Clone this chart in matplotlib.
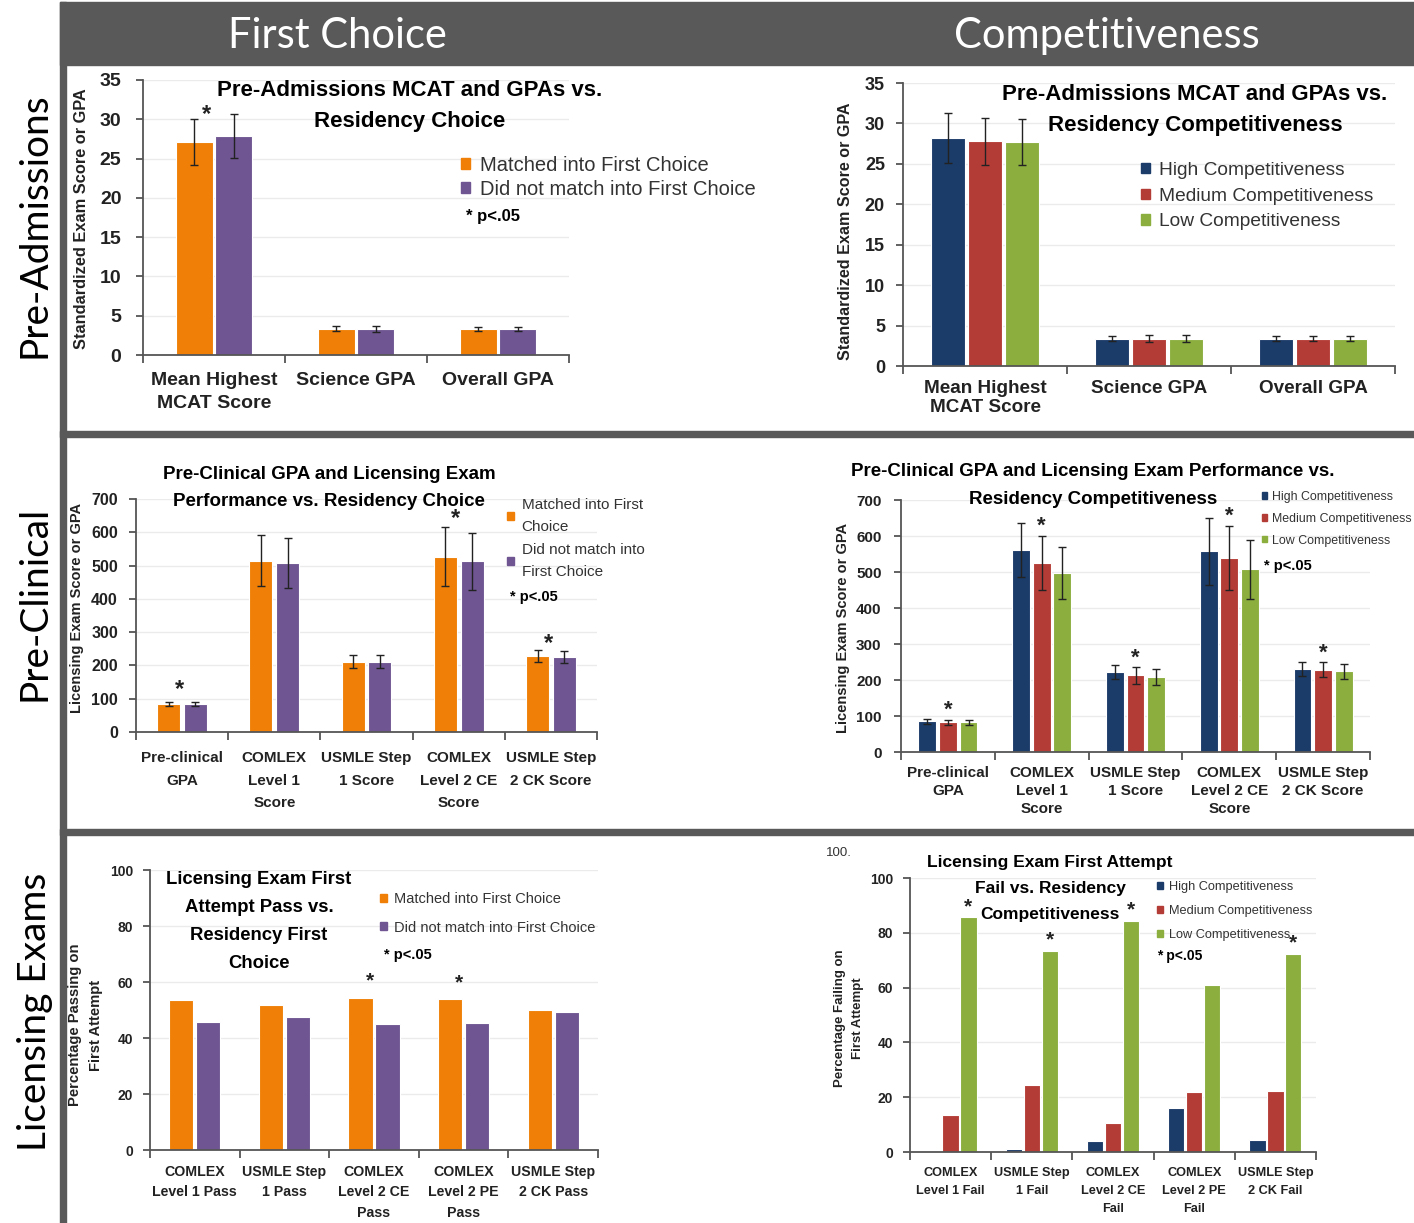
import numpy as np
import matplotlib.pyplot as plt
from matplotlib.patches import Rectangle

# ---- data ----
cats_adm = ['Mean Highest\nMCAT Score', 'Science GPA', 'Overall GPA']
matched_adm = [27.1, 3.35, 3.35]
matched_adm_err = [2.9, 0.35, 0.25]
notmatched_adm = [27.9, 3.35, 3.35]
notmatched_adm_err = [2.8, 0.4, 0.25]
high_adm = [28.2, 3.4, 3.4]
high_adm_err = [3.1, 0.35, 0.35]
med_adm = [27.8, 3.4, 3.4]
med_adm_err = [2.9, 0.4, 0.35]
low_adm = [27.7, 3.4, 3.4]
low_adm_err = [2.8, 0.4, 0.3]

cats_clin = ['Pre-clinical\nGPA', 'COMLEX\nLevel 1\nScore', 'USMLE Step\n1 Score',
             'COMLEX\nLevel 2 CE\nScore', 'USMLE Step\n2 CK Score']
matched_clin = [84, 515, 211, 527, 227]
matched_clin_err = [5, 76, 20, 88, 18]
notmatched_clin = [83, 508, 211, 513, 225]
notmatched_clin_err = [6, 75, 19, 86, 19]
high_clin = [85, 560, 222, 558, 231]
high_clin_err = [7, 75, 19, 93, 20]
med_clin = [83, 526, 213, 540, 229]
med_clin_err = [7, 75, 23, 89, 20]
low_clin = [83, 497, 208, 507, 224]
low_clin_err = [7, 72, 22, 83, 20]

cats_pass = ['COMLEX\nLevel 1 Pass', 'USMLE Step\n1 Pass', 'COMLEX\nLevel 2 CE\nPass',
             'COMLEX\nLevel 2 PE\nPass', 'USMLE Step\n2 CK Pass']
matched_pass = [53.5, 51.8, 54.3, 53.8, 50.0]
notmatched_pass = [45.7, 47.5, 45.0, 45.4, 49.2]

cats_fail = ['COMLEX\nLevel 1 Fail', 'USMLE Step\n1 Fail', 'COMLEX\nLevel 2 CE\nFail',
             'COMLEX\nLevel 2 PE\nFail', 'USMLE Step\n2 CK Fail']
high_fail = [0, 1.0, 4.0, 16.2, 4.3]
med_fail = [13.6, 24.6, 10.6, 21.8, 22.3]
low_fail = [85.6, 73.4, 84.2, 60.8, 72.2]

# ---- style ----
W, H = 1414, 1223
GRAY = '#595959'
ORANGE = '#EF7F06'
PURPLE = '#6F5591'
BLUE = '#1B3B68'
RED = '#B43C37'
GREEN = '#8BAE3F'
SANS = ['Liberation Sans', 'DejaVu Sans']
BIG = ['Lato', 'DejaVu Sans']
INK = '#222222'

fig = plt.figure(figsize=(W / 100, H / 100), dpi=100)


def box(x0, y0, x1, y1):
    fig.patches.append(Rectangle((x0 / W, 1 - y1 / H), (x1 - x0) / W, (y1 - y0) / H,
                                 transform=fig.transFigure, color=GRAY, zorder=0))


def ptext(x, y, s, **kw):
    kw.setdefault('fontfamily', SANS)
    fig.text(x / W, 1 - y / H, s, **kw)


def add_ax(x0, y0, x1, y1):
    ax = fig.add_axes([x0 / W, 1 - y1 / H, (x1 - x0) / W, (y1 - y0) / H])
    ax.patch.set_alpha(0)
    return ax


def style(ax, cats, ymax, ystep, yfs, ypad, xfs, xpad, ls):
    n = len(cats)
    ax.set_xlim(-0.5, n - 0.5)
    ax.set_ylim(0, ymax)
    ax.set_yticks(np.arange(0, ymax + 1, ystep))
    ax.yaxis.grid(True, color='#ebebeb', lw=1)
    ax.set_axisbelow(True)
    for s in ['top', 'right']:
        ax.spines[s].set_visible(False)
    for s in ['left', 'bottom']:
        ax.spines[s].set_color('#555555')
        ax.spines[s].set_linewidth(1.3)
    ax.set_xticks(range(n))
    ax.set_xticklabels(cats, fontfamily=SANS, fontsize=xfs, fontweight='bold',
                       color=INK, linespacing=ls)
    ax.set_xticks(np.arange(-0.5, n), minor=True)
    ax.tick_params(axis='x', which='major', length=0, pad=xpad)
    ax.tick_params(axis='x', which='minor', length=6, width=1.3, color='#555555')
    ax.tick_params(axis='y', length=5, width=1.3, color='#555555', pad=ypad)
    for t in ax.get_yticklabels():
        t.set_fontfamily(SANS)
        t.set_fontsize(yfs)
        t.set_fontweight('bold')
        t.set_color(INK)


def bars(ax, series, colors, width, offset):
    n = len(series)
    x = np.arange(len(series[0][0]))
    for i, (vals, errs) in enumerate(series):
        pos = x + (i - (n - 1) / 2) * offset
        ekw = dict(ecolor=INK, elinewidth=1, capsize=3, capthick=1)
        ax.bar(pos, vals, width, color=colors[i], edgecolor='white', lw=0.8,
               yerr=errs, error_kw=ekw, zorder=2)


def legend(ax, x, y, labels, colors, fs, spacing, ms=0.45, ls=1.2, tp=0.5):
    h = [Rectangle((0, 0), 1, 1, color=c) for c in colors]
    leg = ax.legend(h, labels, loc='upper left', bbox_to_anchor=(x / W, 1 - y / H),
                    bbox_transform=fig.transFigure, frameon=False,
                    prop=dict(family=SANS, size=fs), labelcolor='#333333',
                    handlelength=ms, handleheight=ms, handletextpad=tp,
                    labelspacing=spacing, borderpad=0, borderaxespad=0)
    for t in leg.get_texts():
        t.set_linespacing(ls)


def star(ax, x, y, fs=16):
    ax.text(x, y, '*', ha='center', va='center', fontsize=fs, fontweight='bold',
            fontfamily=SANS, color=INK, zorder=3)


def ylab(x, y, s, fs):
    ptext(x, y, s, rotation=90, ha='center', va='center', fontsize=fs,
          fontweight='bold', color=INK)


def title(x, lines, ys, fs):
    for line, yy in zip(lines, ys):
        ptext(x, yy, line, ha='center', va='center', fontsize=fs, fontweight='bold',
              color='black')


# ---- frame ----
box(60, 2, 1414, 65)
box(60, 2, 66, 1223)
box(60, 431, 1414, 437)
box(60, 829, 1414, 835)
ptext(337, 36, 'First Choice', ha='center', va='center', color='white',
      fontsize=30, fontfamily=BIG)
ptext(1107, 36, 'Competitiveness', ha='center', va='center', color='white',
      fontsize=30, fontfamily=BIG)
for lab, yc in [('Pre-Admissions', 225), ('Pre-Clinical', 603), ('Licensing Exams', 1012)]:
    ptext(35, yc, lab, ha='center', va='center', rotation=90, color='black',
          fontsize=28, fontfamily=BIG)

# ---- top-left ----
ax = add_ax(143, 80, 569, 355)
bars(ax, [(matched_adm, matched_adm_err), (notmatched_adm, notmatched_adm_err)],
     [ORANGE, PURPLE], 0.26, 0.275)
style(ax, cats_adm, 35, 5, 14, 10.5, 14, 12.5, 1.45)
star(ax, -0.05, matched_adm[0] + matched_adm_err[0] + 0.6, 17)
ylab(82, 219, 'Standardized Exam Score or GPA', 11.8)
title(410, ['Pre-Admissions MCAT and GPAs vs.', 'Residency Choice'], [91, 122], 16)
legend(ax, 461, 156, ['Matched into First Choice', 'Did not match into First Choice'],
       [ORANGE, PURPLE], 14.5, 0.25)
ptext(466, 217, '* p<.05', va='center', fontsize=12, fontweight='bold')

# ---- top-right ----
ax = add_ax(903, 83, 1395, 366)
bars(ax, [(high_adm, high_adm_err), (med_adm, med_adm_err), (low_adm, low_adm_err)],
     [BLUE, RED, GREEN], 0.21, 0.225)
style(ax, cats_adm, 35, 5, 13, 8, 13.6, 10, 1.2)
ylab(845, 231, 'Standardized Exam Score or GPA', 11.6)
title(1195, ['Pre-Admissions MCAT and GPAs vs.', 'Residency Competitiveness'], [95, 126], 16)
legend(ax, 1141, 162, ['High Competitiveness', 'Medium Competitiveness', 'Low Competitiveness'],
       [BLUE, RED, GREEN], 13.8, 0.45)

# ---- middle-left ----
ax = add_ax(136, 499, 597, 732)
bars(ax, [(matched_clin, matched_clin_err), (notmatched_clin, notmatched_clin_err)],
     [ORANGE, PURPLE], 0.25, 0.29)
style(ax, cats_clin, 700, 100, 11.5, 8, 11, 14, 1.75)
for i, dy in [(0, 38), (3, 25), (4, 22)]:
    star(ax, i - 0.03, matched_clin[i] + matched_clin_err[i] + dy, 17)
ylab(77, 608, 'Licensing Exam Score or GPA', 10.5)
title(329, ['Pre-Clinical GPA and Licensing Exam', 'Performance vs. Residency Choice'],
      [474, 501], 13.5)
legend(ax, 507, 498, ['Matched into First\nChoice', 'Did not match into\nFirst Choice'],
       [ORANGE, PURPLE], 11, 0.55, ls=1.75)
ptext(510, 597, '* p<.05', va='center', fontsize=10.5, fontweight='bold')

# ---- middle-right ----
ax = add_ax(901, 500, 1370, 752)
bars(ax, [(high_clin, high_clin_err), (med_clin, med_clin_err), (low_clin, low_clin_err)],
     [BLUE, RED, GREEN], 0.19, 0.22)
style(ax, cats_clin, 700, 100, 11, 9, 11, 10, 1.38)
for i in range(5):
    star(ax, i, med_clin[i] + med_clin_err[i] + 25, 16)
ylab(843, 628, 'Licensing Exam Score or GPA', 10.5)
title(1093, ['Pre-Clinical GPA and Licensing Exam Performance vs.',
             'Residency Competitiveness'], [471, 499], 13.5)
legend(ax, 1262, 491, ['High Competitiveness', 'Medium Competitiveness', 'Low Competitiveness'],
       [BLUE, RED, GREEN], 8.9, 0.8, ms=0.4, tp=0.4)
ptext(1264, 566, '* p<.05', va='center', fontsize=10.5, fontweight='bold')

# ---- bottom-left ----
ax = add_ax(150, 870, 598, 1150)
bars(ax, [(matched_pass, None), (notmatched_pass, None)], [ORANGE, PURPLE], 0.27, 0.3)
style(ax, cats_pass, 100, 20, 10, 7, 10.2, 10.5, 1.6)
for i in [2, 3]:
    star(ax, i - 0.05, matched_pass[i] + 6, 15)
ylab(75, 1025, 'Percentage Passing on', 10.6)
ylab(96, 1025, 'First Attempt', 10.6)
title(259, ['Licensing Exam First', 'Attempt Pass vs.', 'Residency First', 'Choice'],
      [880, 908, 936, 963], 13.3)
legend(ax, 380, 892, ['Matched into First Choice', 'Did not match into First Choice'],
       [ORANGE, PURPLE], 10.5, 1.0)
ptext(384, 955, '* p<.05', va='center', fontsize=10.5, fontweight='bold')

# ---- bottom-right ----
ax = add_ax(910, 878, 1316, 1152)
bars(ax, [(high_fail, None), (med_fail, None), (low_fail, None)], [BLUE, RED, GREEN], 0.2, 0.22)
style(ax, cats_fail, 100, 20, 10, 7, 9.2, 10.5, 1.7)
for i in [0, 1, 2, 4]:
    star(ax, i + 0.22, low_fail[i] + 4, 15)
ylab(840, 1018, 'Percentage Failing on', 9.5)
ylab(858, 1018, 'First Attempt', 9.5)
title(1050, ['Licensing Exam First Attempt', 'Fail vs. Residency', 'Competitiveness'],
      [863, 889, 915], 12.5)
legend(ax, 1157, 881, ['High Competitiveness', 'Medium Competitiveness', 'Low Competitiveness'],
       [BLUE, RED, GREEN], 9.2, 0.95)
ptext(1157, 956, '* p<.05', va='center', fontsize=10, fontweight='bold')
ptext(826, 853, '100.', va='center', fontsize=9.5, color='#333333')

fig.savefig('out.png', dpi=100)
